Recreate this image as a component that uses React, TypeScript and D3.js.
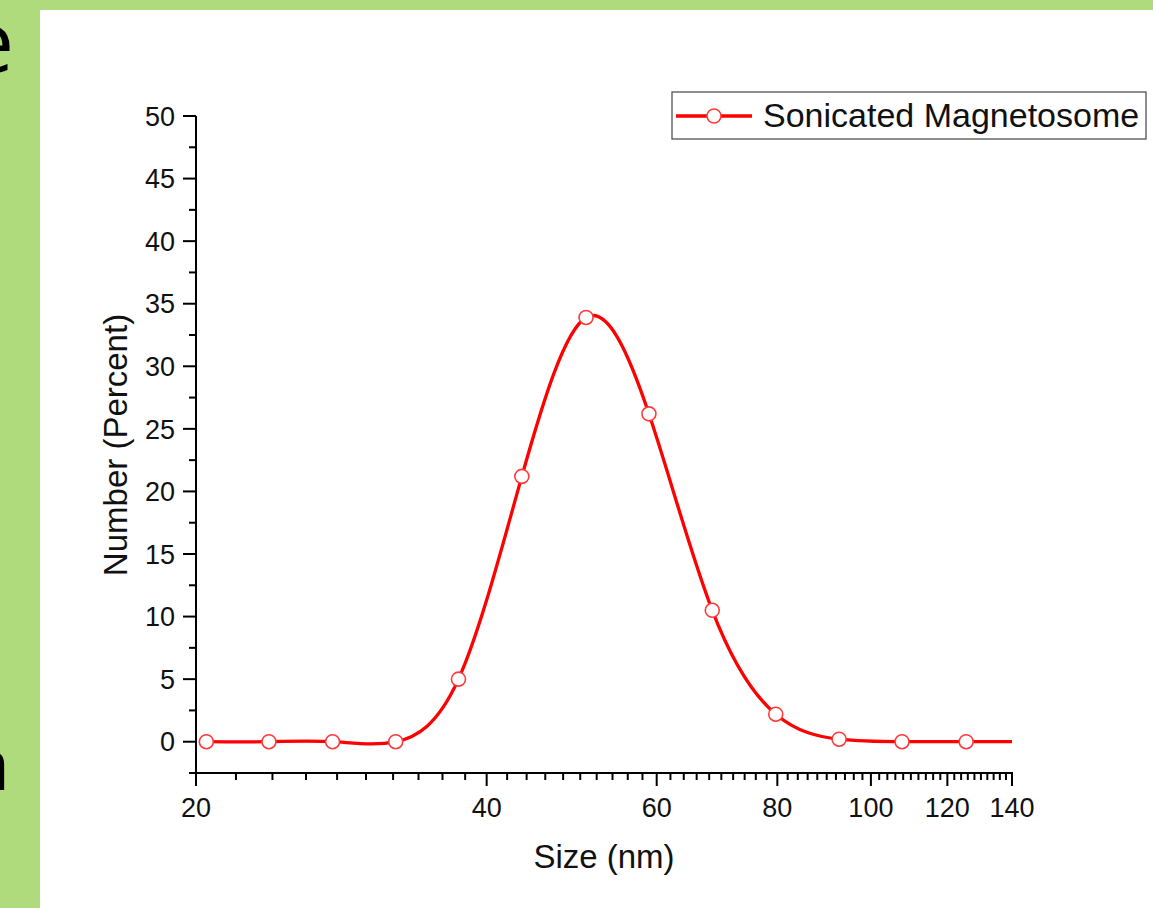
import React from "react";
import * as d3 from "d3";

// Data (DLS number distribution)
const sizes = [20.5, 23.8, 27.7, 32.2, 37.4, 43.5, 50.7, 58.9, 68.5, 79.7, 92.7, 107.7, 125.5, 146.0];
const numbers = [0, 0, 0, 0, 5.0, 21.2, 33.9, 26.2, 10.5, 2.2, 0.2, 0, 0, 0];
const xMajorTicks = [20, 40, 60, 80, 100, 120, 140];
const yMajorTicks = [0, 5, 10, 15, 20, 25, 30, 35, 40, 45, 50];
const seriesName = "Sonicated Magnetosome";
const xTitle = "Size (nm)";
const yTitle = "Number (Percent)";

const W = 1153;
const H = 908;
const FONT = "'Liberation Sans', Arial, Helvetica, sans-serif";
const RED = "#ff0000";

export default function App() {
  const x = d3.scaleLog().domain([20, 140]).range([196, 1012]);
  const y = d3.scaleLinear().domain([-2.5, 50]).range([773, 116]);

  const xMinor = d3.range(22, 140, 2).filter((v) => !xMajorTicks.includes(v));
  const yMinor = d3.range(-2.5, 50, 5);

  const pts: [number, number][] = sizes.map((s, i) => [x(s), y(numbers[i])]);
  const line = d3.line().curve(d3.curveNatural)(pts) || "";

  const axisColor = "#000";
  const x0 = x(20);
  const x1 = x(140);
  const yb = y(-2.5);
  const yt = y(50);

  return (
    <svg
      width={W}
      height={H}
      style={{ position: "fixed", left: 0, top: 0, display: "block" }}
      fontFamily={FONT}
    >
      <defs>
        <clipPath id="plotClip">
          <rect x={x0} y={yt - 10} width={x1 - x0} height={yb - yt + 10} />
        </clipPath>
      </defs>
      {/* slide background */}
      <rect x={0} y={0} width={W} height={H} fill="#afdb7c" />
      <text x={14} y={72} fontSize={84} textAnchor="end" fill="#000" fontFamily="'Open Sans', sans-serif">e</text>
      <text x={10} y={790} fontSize={72} textAnchor="end" fill="#000" fontFamily="'Open Sans', sans-serif">a</text>
      <rect x={40} y={10} width={W - 40} height={H - 10} fill="#ffffff" />

      {/* axes */}
      <line x1={x0} x2={x0} y1={yt} y2={yb} stroke={axisColor} strokeWidth={2} />
      <line x1={x0 - 1} x2={x1 + 1} y1={yb} y2={yb} stroke={axisColor} strokeWidth={2} />

      {yMajorTicks.map((v) => (
        <g key={"ym" + v}>
          <line x1={x0 - 13} x2={x0} y1={y(v)} y2={y(v)} stroke={axisColor} strokeWidth={2} />
          <text x={x0 - 21} y={y(v)} dy="0.36em" textAnchor="end" fontSize={27} fill="#111">
            {v}
          </text>
        </g>
      ))}
      {yMinor.map((v) => (
        <line key={"yn" + v} x1={x0 - 7} x2={x0} y1={y(v)} y2={y(v)} stroke={axisColor} strokeWidth={2} />
      ))}

      {xMajorTicks.map((v) => (
        <g key={"xm" + v}>
          <line x1={x(v)} x2={x(v)} y1={yb} y2={yb + 13} stroke={axisColor} strokeWidth={2} />
          <text x={x(v)} y={817} textAnchor="middle" fontSize={27} fill="#111">
            {v}
          </text>
        </g>
      ))}
      {xMinor.map((v) => (
        <line key={"xn" + v} x1={x(v)} x2={x(v)} y1={yb} y2={yb + 7} stroke={axisColor} strokeWidth={2} />
      ))}

      {/* titles */}
      <text x={(x0 + x1) / 2} y={868} textAnchor="middle" fontSize={33} fill="#111">
        {xTitle}
      </text>
      <text
        transform={`translate(127, 445) rotate(-90)`}
        textAnchor="middle"
        fontSize={33}
        fill="#111"
      >
        {yTitle}
      </text>

      {/* series */}
      <g clipPath="url(#plotClip)">
        <path d={line} fill="none" stroke={RED} strokeWidth={3.3} />
        {pts.map(([px, py], i) => (
          <circle key={i} cx={px} cy={py} r={7} fill="#fff" stroke="#ff3a3a" strokeWidth={1.6} />
        ))}
      </g>

      {/* legend */}
      <rect x={672} y={92} width={474} height={47} fill="#fff" stroke="#444" strokeWidth={1.2} />
      <line x1={676} x2={752} y1={116} y2={116} stroke={RED} strokeWidth={3.3} />
      <circle cx={714} cy={116} r={7} fill="#fff" stroke="#ff3a3a" strokeWidth={1.6} />
      <text x={763} y={127} fontSize={34} fill="#111">
        {seriesName}
      </text>
    </svg>
  );
}
